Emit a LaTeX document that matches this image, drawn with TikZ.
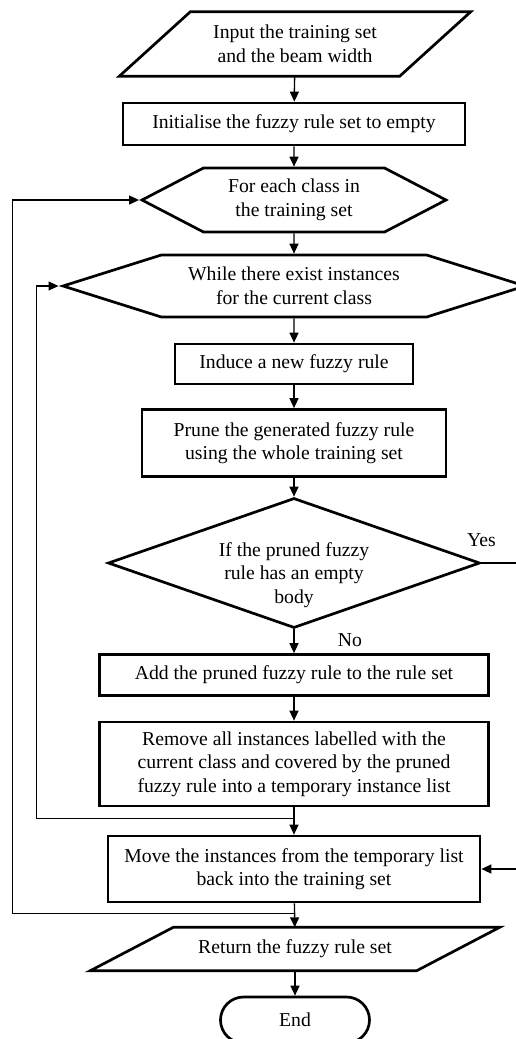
\documentclass[tikz,border=0pt]{standalone}
\usepackage{fontspec}
\setmainfont{Liberation Serif}
\usetikzlibrary{shapes,arrows.meta}

\tikzset{
    shp/.style={draw, line width=2.7pt, align=center, inner sep=0pt},
    proc/.style={shp, rectangle},
    io/.style={rectangle, align=center, inner sep=0pt},
    loopbox/.style={shp, signal, signal to=west and east},
    decision/.style={shp, diamond},
    term/.style={shp, rounded rectangle},
    arr/.style={line width=1.4pt, -{Triangle[length=10pt,width=9pt]}},
    back/.style={arr, line width=1.1pt}
}

\begin{document}
\begin{tikzpicture}[x=1pt, y=-1pt, font=\fontsize{19.7}{23.5}\selectfont]
    \useasboundingbox (0,0) rectangle (515,1039);

    \node[io, minimum width=280pt, minimum height=64pt] (input) at (295,44)
      {Input the training set\\and the beam width};
    \draw[shp] ([xshift=35.5pt]input.north west) -- ([xshift=35.5pt]input.north east)
      -- ([xshift=-35.5pt]input.south east) -- ([xshift=-35.5pt]input.south west) -- cycle;
    \node[proc, minimum width=342pt, minimum height=42pt] (init) at (294,124)
      {Initialise the fuzzy rule set to empty};
    \node[loopbox, signal pointer angle=55, minimum width=304pt,
      minimum height=64pt] (foreach) at (294,200)
      {For each class in\\the training set};
    \node[loopbox, signal pointer angle=35, minimum width=462pt,
      minimum height=62pt] (while) at (294,286)
      {While there exist instances\\for the current class};
    \node[proc, minimum width=238pt, minimum height=40pt] (induce) at (294,364)
      {Induce a new fuzzy rule};
    \node[proc, minimum width=304pt, minimum height=67pt] (prune) at (294,443)
      {Prune the generated fuzzy rule\\using the whole training set};
    \node[decision, minimum width=372pt, minimum height=130pt,
      label={[align=center, yshift=-12pt]center:If the pruned fuzzy\\rule has an empty\\body}]
      (empty) at (294,563) {};
    \node[proc, minimum width=389pt, minimum height=41pt] (add) at (294,675)
      {Add the pruned fuzzy rule to the rule set};
    \node[proc, minimum width=389pt, minimum height=84pt] (remove) at (294,764)
      {Remove all instances labelled with the\\current class and covered by the pruned\\fuzzy rule into a temporary instance list};
    \node[proc, minimum width=372pt, minimum height=66pt] (move) at (294,869)
      {Move the instances from the temporary list\\back into the training set};
    \node[io, minimum width=326pt, minimum height=43pt] (return) at (295,949)
      {Return the fuzzy rule set};
    \draw[shp] ([xshift=41.5pt]return.north west) -- ([xshift=41.5pt]return.north east)
      -- ([xshift=-41.5pt]return.south east) -- ([xshift=-41.5pt]return.south west) -- cycle;
    \node[term, minimum width=149pt, minimum height=46pt] (end) at (295,1020) {End};

    \draw[arr] (input) -- (init);
    \draw[arr] (init) -- (foreach);
    \draw[arr] (foreach) -- (while);
    \draw[arr] (while) -- (induce);
    \draw[arr] (induce) -- (prune);
    \draw[arr] (prune) -- (empty);
    \draw[arr] (empty) -- (add);
    \draw[arr] (add) -- (remove);
    \draw[arr] (remove) -- (move);
    \draw[arr] (move) -- (return);
    \draw[arr] (return) -- (end);

    % yes / no
    \draw[arr] (empty.east) -- ++(43,0) |- (move.east);
    \node[anchor=base] (yes) at ([yshift=17pt]empty.east) {Yes};
    \node[anchor=base] (no) at ([xshift=56pt,yshift=-17pt]empty.south) {No};

    % loops back
    \draw[back] (remove.south) ++(0,11) -| ([xshift=-22pt]while.west) -- (while.west);
    \draw[back] (move.south) ++(0,10) -| ([xshift=-127pt]foreach.west) -- (foreach.west);
\end{tikzpicture}
\end{document}
